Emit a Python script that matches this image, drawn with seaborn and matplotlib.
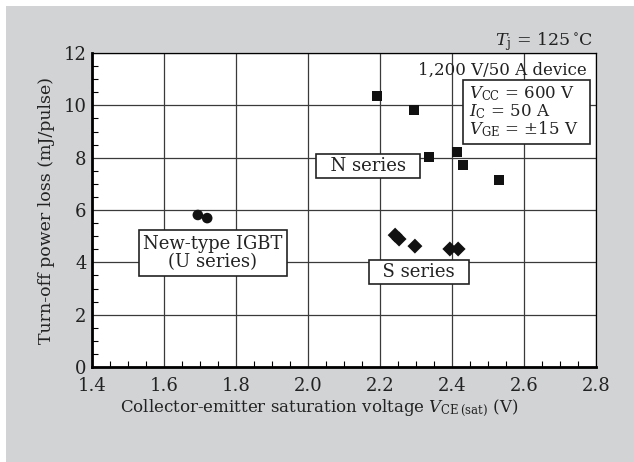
import numpy as np
import pandas as pd
import matplotlib.pyplot as plt
import seaborn as sns
from matplotlib.patches import Rectangle
from matplotlib.ticker import MultipleLocator

sns.set_style('ticks')
plt.rcParams['font.family'] = ['DejaVu Serif']
plt.rcParams['mathtext.fontset'] = 'dejavuserif'

# values
u_vce = [1.694, 1.72]
u_loss = [5.81, 5.69]
n_vce = [2.192, 2.294, 2.336, 2.414, 2.431, 2.531]
n_loss = [10.36, 9.82, 8.02, 8.22, 7.72, 7.15]
s_vce = [2.242, 2.253, 2.297, 2.394, 2.417]
s_loss = [5.04, 4.89, 4.62, 4.51, 4.51]

df = pd.DataFrame({
    'vce': u_vce + n_vce + s_vce,
    'loss': u_loss + n_loss + s_loss,
    'series': ['U'] * len(u_vce) + ['N'] * len(n_vce) + ['S'] * len(s_vce),
})

fig = plt.figure(figsize=(6.34, 4.62), dpi=100)
fig.patch.set_facecolor('white')
fig.patches.append(Rectangle((6 / 634, 0), 1, 1 - 6 / 462, transform=fig.transFigure,
                             facecolor='#d2d3d5', edgecolor='none', zorder=-10))
ax = fig.add_axes([92 / 634, 1 - 367 / 462, 504 / 634, 314 / 462])
ax.set_facecolor('white')

sns.scatterplot(data=df, x='vce', y='loss', style='series',
                markers={'U': 'o', 'N': 's', 'S': 'D'}, color='#111111',
                s=58, edgecolor='none', legend=False, ax=ax, zorder=3)

ax.set_xlim(1.4, 2.8)
ax.set_ylim(0, 12)
ax.xaxis.set_major_locator(MultipleLocator(0.2))
ax.xaxis.set_minor_locator(MultipleLocator(0.05))
ax.yaxis.set_major_locator(MultipleLocator(2))
ax.yaxis.set_minor_locator(MultipleLocator(0.5))
ax.set_xticks(np.arange(1.4, 2.81, 0.2))
ax.set_xticklabels([f'{v:.1f}' for v in np.arange(1.4, 2.81, 0.2)])
ax.grid(True, which='major', color='#3a3a3a', linewidth=0.9)
ax.tick_params(which='both', direction='in', labelsize=13, color='black',
               labelcolor='#222222')
ax.tick_params(axis='x', pad=7)
ax.tick_params(axis='y', pad=4)
ax.tick_params(which='major', length=0)
ax.tick_params(which='minor', length=4, width=0.8)
for side in ['left', 'bottom']:
    ax.spines[side].set_linewidth(2)
for side in ['top', 'right']:
    ax.spines[side].set_linewidth(0.9)
for sp in ax.spines.values():
    sp.set_color('black')
    sp.set_visible(True)

ax.set_xlabel(r'Collector-emitter saturation voltage $V_{\rm CE\,(sat)}$ (V)',
              fontsize=12, color='#222222')
ax.xaxis.set_label_coords(0.45, -0.095)
ax.set_ylabel('Turn-off power loss (mJ/pulse)', fontsize=12.5, color='#222222', labelpad=6)

box = dict(boxstyle='square,pad=0.25', facecolor='white', edgecolor='#222222', linewidth=1.2)
sbox = dict(boxstyle='square,pad=0.15', facecolor='white', edgecolor='#222222', linewidth=1.2)
ax.text(1.736, 4.36, 'New-type IGBT\n(U series)', ha='center', va='center',
        fontsize=13, color='#222222', bbox=box, linespacing=1.05, zorder=4)
ax.text(2.167, 7.68, '  N series  ', ha='center', va='center', fontsize=13,
        color='#222222', bbox=sbox, zorder=4)
ax.text(2.308, 3.63, '  S series  ', ha='center', va='center', fontsize=13,
        color='#222222', bbox=sbox, zorder=4)

ax.text(0.982, 0.945, '1,200 V/50 A device', transform=ax.transAxes, ha='right',
        va='center', fontsize=12, color='#222222', zorder=4)
# conditions box
ax.add_patch(Rectangle((0.736, 0.710), 0.252, 0.204, transform=ax.transAxes,
                       facecolor='white', edgecolor='#222222', linewidth=1.2, zorder=4))
ax.text(0.748, 0.900, '$V_{\\rm CC}$ = 600 V\n$I_{\\rm C}$ = 50 A\n$V_{\\rm GE}$ = \u00b115 V',
        transform=ax.transAxes, ha='left', va='top', fontsize=12, color='#222222',
        linespacing=0.92, zorder=5)
ax.text(0.995, 1.025, '$T_{\\rm j}$ = 125$\\,^{\\circ}$C', transform=ax.transAxes,
        ha='right', va='baseline', fontsize=12.5, color='#222222')

fig.savefig('out.png', dpi=100)
